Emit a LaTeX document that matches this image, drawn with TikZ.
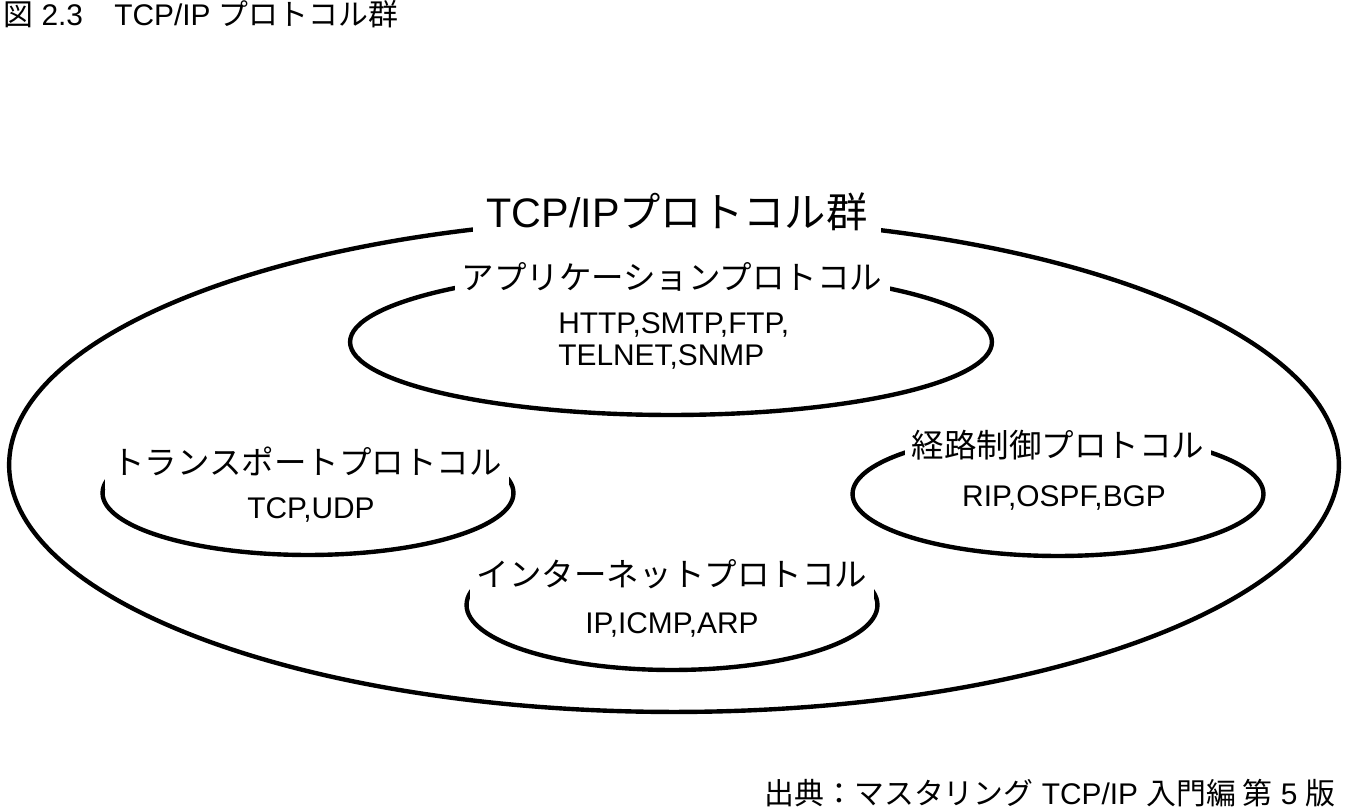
\documentclass[tikz,border=0pt]{standalone}
\usepackage{fontspec}
\setmainfont{Liberation Sans}
\newfontfamily\jpfont{Noto Sans CJK JP}
\usetikzlibrary{shapes.geometric}

\tikzset{
  proto/.style={draw, ellipse, line width=2.5pt, inner sep=0pt},
  grouplabel/.style={fill=white, inner sep=4pt, anchor=base, text height=24pt, text depth=4pt,
    font=\fontsize{18.5}{20}\selectfont\jpfont},
  members/.style={inner sep=0pt, align=left, font=\fontsize{17}{18.2}\selectfont},
  caption/.style={inner sep=0pt, font=\fontsize{17}{19}\selectfont}
}

\begin{document}
\begin{tikzpicture}[x=0.02cm, y=-0.02cm]
  \useasboundingbox (0,0) rectangle (1345,810);

  % ellipses
  \node[proto, minimum width=26.6cm, minimum height=9.88cm] (suite) at (674,465) {};
  \node[proto, minimum width=12.84cm, minimum height=2.92cm] (app) at (671,342) {};
  \node[proto, minimum width=8.22cm, minimum height=2.48cm] (transport) at (308,493) {};
  \node[proto, minimum width=8.22cm, minimum height=2.48cm] (routing) at (1058,494) {};
  \node[proto, minimum width=8.22cm, minimum height=2.6cm] (internet) at (672,605) {};

  % group names
  \node[fill=white, inner sep=8pt, font=\fontsize{23.5}{25}\selectfont] (suitelabel) at (677,212)
    {TCP/IP{\jpfont プロトコル群}};
  \node[grouplabel] (applabel) at (672,290) {アプリケーションプロトコル};
  \node[grouplabel] (transportlabel) at (307,475) {トランスポートプロトコル};
  \node[grouplabel] (routinglabel) at (1058,458) {経路制御プロトコル};
  \node[grouplabel] (internetlabel) at (672,586) {インターネットプロトコル};

  % protocols
  \node[members, anchor=west] (appmembers) at (558,341) {HTTP,SMTP,FTP,\\TELNET,SNMP};
  \node[members] (transportmembers) at (311,510) {TCP,UDP};
  \node[members] (routingmembers) at (1064,498) {RIP,OSPF,BGP};
  \node[members] (internetmembers) at (672,625) {IP,ICMP,ARP};

  % captions
  \node[caption, anchor=base west] (figtitle) at (3,26)
    {{\jpfont 図} 2.3\hspace{1.05em}TCP/IP {\jpfont プロトコル群}};
  \node[caption, anchor=base east] (source) at (1336,804)
    {{\jpfont 出典：マスタリング} TCP/IP {\jpfont 入門編 第} 5 {\jpfont 版}};
\end{tikzpicture}
\end{document}
